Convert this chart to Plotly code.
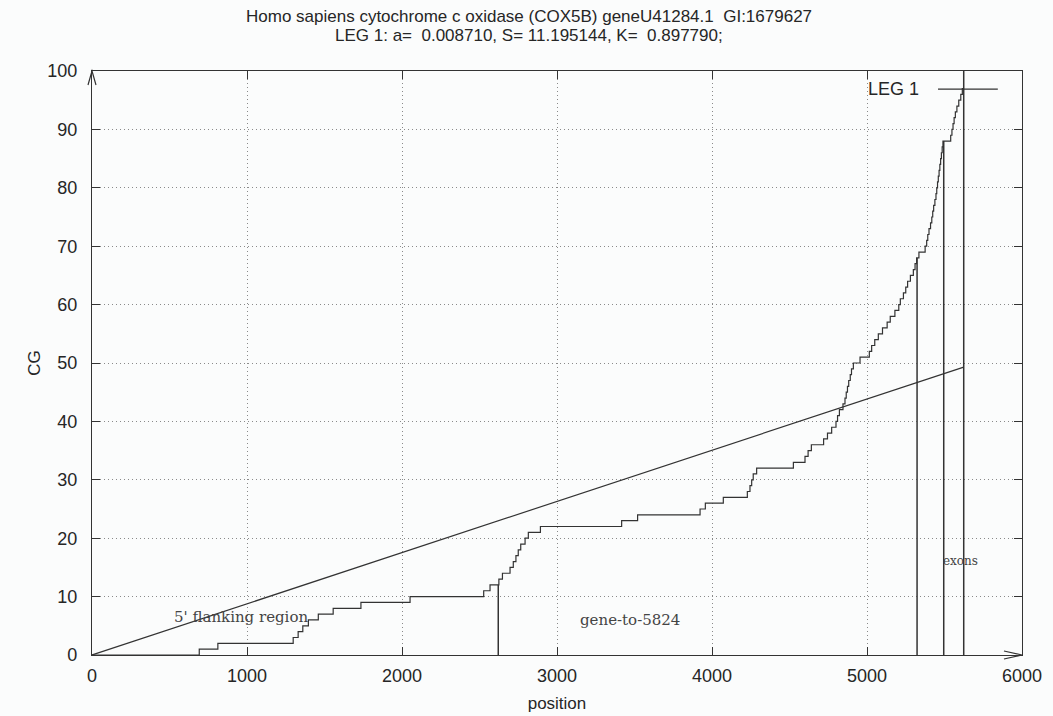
import plotly.graph_objects as go

# ---- data ----
step_pos = [0, 692, 812, 1298, 1330, 1360, 1396, 1460, 1556, 1735, 2052, 2527, 2568, 2625, 2648,
            2697, 2718, 2735, 2750, 2766, 2794, 2815, 2893, 3417, 3520, 3923, 3957, 4073, 4228,
            4245, 4256, 4266, 4288, 4525, 4600, 4620, 4641, 4720, 4745, 4772, 4800, 4810, 4822,
            4845, 4858, 4866, 4874, 4882, 4892, 4900, 4912, 4955, 5015, 5030, 5050, 5073, 5100,
            5130, 5150, 5180, 5205, 5215, 5235, 5250, 5262, 5280, 5299, 5310, 5320, 5335, 5375,
            5385, 5392, 5400, 5410, 5418, 5424, 5430, 5438, 5445, 5450, 5455, 5460, 5465, 5470,
            5475, 5480, 5485, 5490, 5540, 5548, 5555, 5562, 5570, 5580, 5592, 5605, 5615, 5624]
step_cg = [0, 1, 2, 3, 4, 5, 6, 7, 8, 9, 10, 11, 12, 13, 14,
           15, 16, 17, 18, 19, 20, 21, 22, 23, 24, 25, 26, 27, 28,
           29, 30, 31, 32, 33, 34, 35, 36, 37, 38, 39, 40, 41, 42,
           43, 44, 45, 46, 47, 48, 49, 50, 51, 52, 53, 54, 55, 56,
           57, 58, 59, 60, 61, 62, 63, 64, 65, 66, 67, 68, 69, 70,
           71, 72, 73, 74, 75, 76, 77, 78, 79, 80, 81, 82, 83, 84,
           85, 86, 87, 88, 89, 90, 91, 92, 93, 94, 95, 96, 97, 97]

diag_pos = [0, 5624]
diag_cg = [0, 49.3]

marker_pos = [2621, 5323, 5495, 5624]
marker_top = [12, 68, 88, 100]

region_labels = ["5' flanking region", "gene-to-5824", "exons"]
region_pos = [964, 3471, 5477]
region_cg = [6.5, 6.0, 16.1]

x_ticks = [0, 1000, 2000, 3000, 4000, 5000, 6000]
y_ticks = [0, 10, 20, 30, 40, 50, 60, 70, 80, 90, 100]

title_line1 = "Homo sapiens cytochrome c oxidase (COX5B) geneU41284.1\u00a0\u00a0GI:1679627"
title_line2 = "LEG 1: a=\u00a0\u00a00.008710, S= 11.195144, K=\u00a0\u00a00.897790;"

LINE = "#333333"
TEXT = "#262626"
FONT = "Liberation Sans, Arial, sans-serif"

fig = go.Figure()

fig.add_trace(go.Scatter(x=step_pos, y=step_cg, mode="lines", line=dict(color=LINE, width=1.2, shape="hv"),
                         showlegend=False, hoverinfo="skip"))
fig.add_trace(go.Scatter(x=diag_pos, y=diag_cg, mode="lines", line=dict(color=LINE, width=1.2),
                         showlegend=False, hoverinfo="skip"))

vx, vy = [], []
for p, t in zip(marker_pos, marker_top):
    vx += [p, p, None]
    vy += [0, t, None]
fig.add_trace(go.Scatter(x=vx, y=vy, mode="lines", line=dict(color=LINE, width=1.5),
                         showlegend=False, hoverinfo="skip"))

for lab, px, py in zip(region_labels, region_pos, region_cg):
    fig.add_annotation(x=px, y=py, text=lab, showarrow=False,
                       xanchor="left" if lab == "exons" else "center",
                       font=dict(family="DejaVu Serif, serif", size=15 if lab != "exons" else 12,
                                 color="#444444"))

# two-line title, placed line by line
fig.add_annotation(xref="paper", yref="paper", x=0.4703, y=1.0925, text=title_line1, showarrow=False,
                   xanchor="center", yanchor="middle", font=dict(family=FONT, size=17, color=TEXT))
fig.add_annotation(xref="paper", yref="paper", x=0.4703, y=1.0616, text=title_line2, showarrow=False,
                   xanchor="center", yanchor="middle", font=dict(family=FONT, size=17, color=TEXT))

# legend (gnuplot style: text then sample)
fig.add_annotation(xref="paper", yref="paper", x=0.891, y=0.969, text="LEG 1", showarrow=False,
                   xanchor="right", yanchor="middle", font=dict(family=FONT, size=18, color=TEXT))
fig.add_shape(type="line", xref="paper", yref="paper", x0=0.9097, x1=0.974, y0=0.969, y1=0.969,
              line=dict(color=LINE, width=1.2))

# axis arrows (paper coordinates so they are not clipped)
fig.add_shape(type="path", xref="paper", yref="paper",
              path="M 0.9806 0.0069 L 1.0 0 L 0.9806 -0.0069", line=dict(color=LINE, width=1.2))
fig.add_shape(type="path", xref="paper", yref="paper",
              path="M -0.0043 0.976 L 0 1.0 L 0.0043 0.976", line=dict(color=LINE, width=1.2))

fig.update_layout(
    width=1053, height=716,
    margin=dict(l=92, r=31, t=71, b=61),
    paper_bgcolor="#fbfcfc", plot_bgcolor="#fbfcfc",
    font=dict(family=FONT, size=18, color=TEXT),
)
fig.update_xaxes(range=[0, 6000], tickvals=x_ticks, showgrid=True, gridcolor="#8a8a8a", griddash="1px,3px",
                 gridwidth=1, zeroline=False, showline=True, linecolor=LINE, linewidth=1.2, mirror="allticks",
                 ticks="inside", ticklen=8, tickcolor=LINE, ticklabelstandoff=4, automargin=False,
                 title=dict(text="position", standoff=12, font=dict(size=17)), tickfont=dict(size=18))
fig.update_yaxes(range=[0, 100], tickvals=y_ticks, showgrid=True, gridcolor="#8a8a8a", griddash="1px,3px",
                 gridwidth=1, zeroline=False, showline=True, linecolor=LINE, linewidth=1.2, mirror="allticks",
                 ticks="inside", ticklen=8, tickcolor=LINE, ticklabelstandoff=10, automargin=False,
                 title=dict(text="CG", standoff=2, font=dict(size=17)), tickfont=dict(size=18))

fig.write_html("out.html")
